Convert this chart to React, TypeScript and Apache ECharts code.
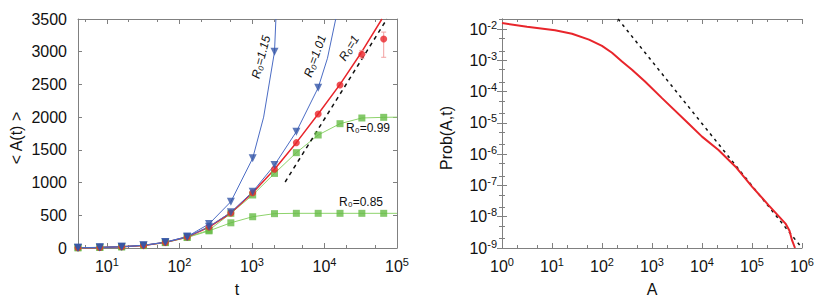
import React, { useEffect, useRef } from 'react';
import * as echarts from 'echarts';

// ---------- data: left panel (mean area vs time) ----------
const T = [4, 8, 16, 32, 64, 128, 256, 512, 1024, 2048, 4096, 8192, 16384, 32768, 65536];
const r115 = [5, 10, 20, 42, 90, 175, 367, 708, 1371, 3000];
const r101 = [4, 9, 19, 40, 87, 170, 326, 545, 860, 1268, 1778, 2450];
const r100 = [4, 9, 18, 39, 86, 168, 320, 535, 845, 1203, 1610, 2048, 2491, 2960, 3194];
const r099 = [4, 9, 18, 38, 85, 165, 272, 530, 810, 1140, 1457, 1727, 1900, 1987, 1997];
const r085 = [4, 9, 18, 37, 82, 160, 262, 385, 478, 525, 530, 530, 530, 530, 530];

// fitted curves
const fitT115 = [4, 8, 16, 32, 64, 128, 256, 512, 1024, 1450, 2048, 2140];
const fit115 = [5, 10, 20, 42, 90, 175, 367, 708, 1371, 2000, 3000, 3500];
const fitT101 = [4, 8, 16, 32, 64, 128, 256, 512, 1024, 2048, 4096, 8192, 11000, 14300];
const fit101 = [4, 9, 19, 40, 87, 170, 326, 545, 860, 1268, 1778, 2450, 2900, 3500];
const fitT100 = [4, 8, 16, 32, 64, 128, 256, 512, 1024, 2048, 4096, 8192, 16384, 32768, 62000];
const fit100 = [4, 9, 18, 39, 86, 168, 320, 535, 845, 1203, 1610, 2048, 2500, 3000, 3500];
const fitT099 = [4, 8, 16, 32, 64, 128, 256, 512, 1024, 2048, 4096, 8192, 16384, 32768, 65536, 100000];
const fit099 = [4, 9, 18, 38, 85, 165, 272, 530, 810, 1140, 1457, 1727, 1900, 1987, 1997, 2000];
const fitT085 = [4, 8, 16, 32, 64, 128, 256, 512, 1024, 2048, 4096, 8192, 16384, 32768, 65536, 100000];
const fit085 = [4, 9, 18, 37, 82, 160, 262, 385, 478, 525, 530, 530, 530, 530, 530, 530];

const dashT = [2870, 72600];
const dashA = [1009, 3500];

const errT = [32768, 65536];
const errLo = [2900, 2915];
const errHi = [3020, 3300];

// ---------- data: right panel (log10 A, log10 Prob) ----------
const logA = [0, 0.5, 1.06, 1.4, 1.74, 2.0, 2.2, 2.4, 2.6, 2.86, 3.2, 3.76, 4.0, 4.33, 4.67, 5.0, 5.33, 5.67, 5.75, 5.8, 5.86];
const logP = [-1.81, -1.93, -2.04, -2.15, -2.34, -2.54, -2.76, -3.04, -3.3, -3.68, -4.21, -5.07, -5.44, -5.87, -6.4, -7.04, -7.63, -8.22, -8.45, -8.75, -9.0];
const dashLogA = [2.32, 6.0];
const dashLogP = [-1.68, -9.0];

const leftXTicks = [1, 2, 3, 4, 5];
const rightXTicks = [0, 1, 2, 3, 4, 5, 6];
const rightYTicks = [-9, -8, -7, -6, -5, -4, -3, -2];

const FONT = '"Liberation Sans", Arial, sans-serif';
const GRAY = '#808080';
const BLUE = '#3456a8';
const BLUE_L = '#4b6cc4';
const GREEN = '#66bb46';
const GREEN_L = '#8ed36c';
const RED = '#e8252b';

const pairLog = (ts: number[], vs: number[]) => ts.map((t, i) => [Math.log10(t), vs[i]]);

function minorTicks(lo: number, hi: number, ks: number[]) {
  const out: number[] = [];
  for (let n = Math.floor(lo) - 1; n <= Math.ceil(hi); n++) {
    for (const k of ks) {
      const v = n + Math.log10(k);
      if (v > lo + 1e-6 && v < hi - 1e-6) out.push(v);
    }
  }
  return out;
}

const rich = {
  b: { fontSize: 16, fontFamily: FONT, color: '#111', lineHeight: 20 },
  s: { fontSize: 11, fontFamily: FONT, color: '#111', lineHeight: 12, verticalAlign: 'top' },
};
const powFmt = (v: number) => `{b|10}{s|${Math.round(v)}}`;

function xAxes(gridIndex: number, min: number, max: number, majors: number[], minors: number[]) {
  const base = { type: 'value', gridIndex, min, max, splitLine: { show: false } };
  return [
    {
      ...base, position: 'bottom',
      axisLine: { show: true, lineStyle: { color: GRAY, width: 1 } },
      axisTick: { show: true, inside: true, length: 5, customValues: majors, lineStyle: { color: GRAY } },
      axisLabel: { show: true, customValues: majors, formatter: powFmt, rich, margin: 8 },
    },
    {
      ...base, position: 'bottom',
      axisLine: { show: false },
      axisTick: { show: true, inside: true, length: 3, customValues: minors, lineStyle: { color: GRAY } },
      axisLabel: { show: false },
    },
    {
      ...base, position: 'top',
      axisLine: { show: true, lineStyle: { color: GRAY, width: 1 } },
      axisTick: { show: true, inside: true, length: 5, customValues: majors, lineStyle: { color: GRAY } },
      axisLabel: { show: false },
    },
    {
      ...base, position: 'top',
      axisLine: { show: false },
      axisTick: { show: true, inside: true, length: 3, customValues: minors, lineStyle: { color: GRAY } },
      axisLabel: { show: false },
    },
  ];
}

export default function App() {
  const ref = useRef<HTMLDivElement>(null);

  useEffect(() => {
    if (!ref.current) return;
    const chart = echarts.init(ref.current, null, { renderer: 'svg' });

    const lxMin = Math.log10(4);
    const leftMinor = minorTicks(lxMin, 5, [2, 5]);
    const rightXMinor = minorTicks(0, 6, [2, 5]);
    const rightYMinor = minorTicks(-9, -1.68, [2, 5]);

    const yBase = { type: 'value', splitLine: { show: false } };

    const fitLine = (name: string, ts: number[], vs: number[], color: string, width: number) => ({
      name, type: 'line', xAxisIndex: 0, yAxisIndex: 0, data: pairLog(ts, vs),
      showSymbol: false, symbol: 'none', smooth: false,
      lineStyle: { color, width }, z: 2,
    });
    const markers = (name: string, ts: number[], vs: number[], symbol: string, size: number, color: string, rotate = 0) => ({
      name, type: 'scatter', xAxisIndex: 0, yAxisIndex: 0, data: pairLog(ts, vs),
      symbol, symbolSize: size, symbolRotate: rotate, itemStyle: { color }, z: 4,
    });

    const option: any = {
      animation: false,
      grid: [
        { left: 78, top: 19, width: 319, height: 229 },
        { left: 502, top: 19, width: 300, height: 229 },
      ],
      xAxis: [
        ...xAxes(0, lxMin, 5, leftXTicks, leftMinor),
        ...xAxes(1, 0, 6, rightXTicks, rightXMinor),
      ],
      yAxis: [
        {
          ...yBase, gridIndex: 0, position: 'left', min: 0, max: 3500, interval: 500,
          axisLine: { show: true, lineStyle: { color: GRAY } },
          axisTick: { show: true, inside: true, length: 4, lineStyle: { color: GRAY } },
          axisLabel: { fontSize: 16, fontFamily: FONT, color: '#111', margin: 11, formatter: (v: number) => String(v) },
        },
        {
          ...yBase, gridIndex: 0, position: 'right', min: 0, max: 3500, interval: 500,
          axisLine: { show: true, lineStyle: { color: GRAY } },
          axisTick: { show: true, inside: true, length: 4, lineStyle: { color: GRAY } },
          axisLabel: { show: false },
        },
        {
          ...yBase, gridIndex: 1, position: 'left', min: -9, max: -1.68,
          axisLine: { show: true, lineStyle: { color: GRAY } },
          axisTick: { show: true, inside: true, length: 5, customValues: rightYTicks, lineStyle: { color: GRAY } },
          axisLabel: { customValues: rightYTicks, formatter: powFmt, rich, margin: 5 },
        },
        {
          ...yBase, gridIndex: 1, position: 'left', min: -9, max: -1.68,
          axisLine: { show: false },
          axisTick: { show: true, inside: true, length: 3, customValues: rightYMinor, lineStyle: { color: GRAY } },
          axisLabel: { show: false },
        },
        {
          ...yBase, gridIndex: 1, position: 'right', min: -9, max: -1.68,
          axisLine: { show: true, lineStyle: { color: GRAY } },
          axisTick: { show: true, inside: true, length: 5, customValues: rightYTicks, lineStyle: { color: GRAY } },
          axisLabel: { show: false },
        },
        {
          ...yBase, gridIndex: 1, position: 'right', min: -9, max: -1.68,
          axisLine: { show: false },
          axisTick: { show: true, inside: true, length: 3, customValues: rightYMinor, lineStyle: { color: GRAY } },
          axisLabel: { show: false },
        },
      ],
      series: [
        fitLine('fit085', fitT085, fit085, GREEN_L, 1),
        fitLine('fit099', fitT099, fit099, GREEN_L, 1),
        fitLine('fit100', fitT100, fit100, RED, 1.5),
        fitLine('fit101', fitT101, fit101, BLUE_L, 1),
        fitLine('fit115', fitT115, fit115, BLUE_L, 1),
        {
          name: 'dashLeft', type: 'line', xAxisIndex: 0, yAxisIndex: 0, data: pairLog(dashT, dashA),
          symbol: 'none', lineStyle: { color: '#111', width: 1.5, type: [4, 4] }, z: 2,
        },
        {
          name: 'err', type: 'custom', xAxisIndex: 0, yAxisIndex: 0,
          data: errT.map((t, i) => [Math.log10(t), errLo[i], errHi[i]]),
          renderItem: (params: any, api: any) => {
            const x = api.value(0);
            const p1 = api.coord([x, api.value(1)]);
            const p2 = api.coord([x, api.value(2)]);
            const st = { stroke: '#f2a0a0', lineWidth: 1 };
            return {
              type: 'group',
              children: [
                { type: 'line', shape: { x1: p1[0], y1: p1[1], x2: p2[0], y2: p2[1] }, style: st },
                { type: 'line', shape: { x1: p1[0] - 2.5, y1: p1[1], x2: p1[0] + 2.5, y2: p1[1] }, style: st },
                { type: 'line', shape: { x1: p2[0] - 2.5, y1: p2[1], x2: p2[0] + 2.5, y2: p2[1] }, style: st },
              ],
            };
          },
          z: 3,
        },
        markers('R0=0.85', T, r085, 'rect', 7, GREEN),
        markers('R0=0.99', T, r099, 'rect', 7, GREEN),
        markers('R0=1', T, r100, 'circle', 7, RED),
        markers('R0=1.01', T.slice(0, r101.length), r101, 'triangle', 8, BLUE, 180),
        markers('R0=1.15', T.slice(0, r115.length), r115, 'triangle', 8, BLUE, 180),
        {
          name: 'prob', type: 'line', xAxisIndex: 4, yAxisIndex: 2,
          data: logA.map((a, i) => [a, logP[i]]),
          symbol: 'none', smooth: false, lineStyle: { color: RED, width: 2 }, z: 3,
        },
        {
          name: 'dashRight', type: 'line', xAxisIndex: 4, yAxisIndex: 2,
          data: dashLogA.map((a, i) => [a, dashLogP[i]]),
          symbol: 'none', lineStyle: { color: '#111', width: 1.5, type: [3, 4] }, z: 2,
        },
      ],
      graphic: [
        { type: 'text', x: 16, y: 138, rotation: Math.PI / 2, style: { text: '< A(t) >', font: `16px ${FONT}`, fill: '#111', align: 'center', verticalAlign: 'middle' } },
        { type: 'text', x: 237, y: 289, style: { text: 't', font: `16px ${FONT}`, fill: '#111', align: 'center', verticalAlign: 'middle' } },
        { type: 'text', x: 446, y: 138, rotation: Math.PI / 2, style: { text: 'Prob(A,t)', font: `16px ${FONT}`, fill: '#111', align: 'center', verticalAlign: 'middle' } },
        { type: 'text', x: 652, y: 289, style: { text: 'A', font: `16px ${FONT}`, fill: '#111', align: 'center', verticalAlign: 'middle' } },
        { type: 'text', x: 261, y: 57, rotation: (75 * Math.PI) / 180, style: { text: 'R₀=1.15', font: `italic 12px ${FONT}`, fill: '#111', align: 'center', verticalAlign: 'middle' } },
        { type: 'text', x: 315, y: 56, rotation: (70 * Math.PI) / 180, style: { text: 'R₀=1.01', font: `italic 12px ${FONT}`, fill: '#111', align: 'center', verticalAlign: 'middle' } },
        { type: 'text', x: 349, y: 48, rotation: (58 * Math.PI) / 180, style: { text: 'R₀=1', font: `italic 12px ${FONT}`, fill: '#111', align: 'center', verticalAlign: 'middle' } },
        { type: 'text', x: 368, y: 128, style: { text: 'R₀=0.99', font: `12px ${FONT}`, fill: '#111', align: 'center', verticalAlign: 'middle' } },
        { type: 'text', x: 361, y: 202, style: { text: 'R₀=0.85', font: `12px ${FONT}`, fill: '#111', align: 'center', verticalAlign: 'middle' } },
      ],
    };

    chart.setOption(option);
    return () => chart.dispose();
  }, []);

  return <div ref={ref} style={{ position: 'fixed', left: 0, top: 0, width: 830, height: 298, background: '#fff' }} />;
}
